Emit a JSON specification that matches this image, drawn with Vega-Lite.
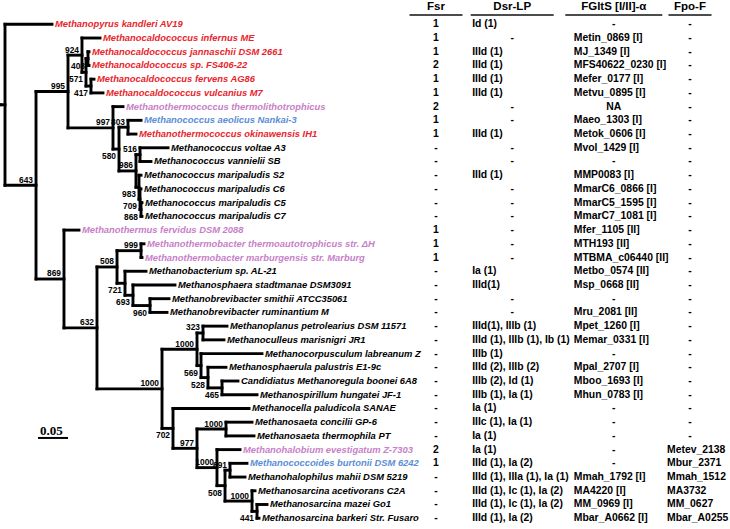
{
"$schema": "https://vega.github.io/schema/vega-lite/v6.json",
"width": 730, "height": 529, "autosize": "none", "padding": 0, "background": "white",
"config": {"view": {"stroke": null}},
"datasets": {
"nodes": [
{"id":"stub","parent":null,"d":-0.0067,"leaf":6.866},
{"id":"root","parent":"stub","d":0,"leaf":6.866},
{"id":"N643","parent":"root","d":0.0517,"leaf":12.731,"bs":"643","pos":"above"},
{"id":"N995","parent":"N643","d":0.105,"leaf":5.898,"bs":"995","pos":"above"},
{"id":"N924","parent":"N995","d":0.1283,"leaf":3.25,"bs":"924","pos":"above"},
{"id":"N571","parent":"N924","d":0.135,"leaf":4.5,"bs":"571","pos":"below"},
{"id":"N408","parent":"N571","d":0.1383,"leaf":3.5,"bs":"408","pos":"below"},
{"id":"N417","parent":"N571","d":0.1433,"leaf":5.5,"bs":"417","pos":"below"},
{"id":"N997","parent":"N995","d":0.18,"leaf":8.547,"bs":"997","pos":"above"},
{"id":"N580","parent":"N997","d":0.19,"leaf":10.094,"bs":"580","pos":"below"},
{"id":"N803","parent":"N580","d":0.205,"leaf":8.5,"bs":"803","pos":"above"},
{"id":"N986","parent":"N580","d":0.2183,"leaf":11.6875,"bs":"986","pos":"above"},
{"id":"N516","parent":"N986","d":0.225,"leaf":10.5,"bs":"516","pos":"above"},
{"id":"N983","parent":"N986","d":0.2233,"leaf":12.875,"bs":"983","pos":"below"},
{"id":"N709","parent":"N983","d":0.225,"leaf":13.75,"bs":"709","pos":"below"},
{"id":"N868","parent":"N709","d":0.2267,"leaf":14.5,"bs":"868","pos":"below"},
{"id":"N869","parent":"N643","d":0.0983,"leaf":19.564,"bs":"869","pos":"above"},
{"id":"N632","parent":"N869","d":0.1533,"leaf":23.129,"bs":"632","pos":"above"},
{"id":"N508","parent":"N632","d":0.1867,"leaf":18.6875,"bs":"508","pos":"above"},
{"id":"N999","parent":"N508","d":0.2267,"leaf":17.5,"bs":"999","pos":"above"},
{"id":"N721","parent":"N508","d":0.2,"leaf":19.875,"bs":"721","pos":"below"},
{"id":"N693","parent":"N721","d":0.2133,"leaf":20.75,"bs":"693","pos":"below"},
{"id":"N960","parent":"N693","d":0.2417,"leaf":21.5,"bs":"960","pos":"below"},
{"id":"N1000g","parent":"N632","d":0.2617,"leaf":27.57,"bs":"1000","pos":"above"},
{"id":"N1000a","parent":"N1000g","d":0.32,"leaf":24.6875,"bs":"1000","pos":"above"},
{"id":"N323","parent":"N1000a","d":0.33,"leaf":23.5,"bs":"323","pos":"above"},
{"id":"N569","parent":"N1000a","d":0.3267,"leaf":25.875,"bs":"569","pos":"below"},
{"id":"N528","parent":"N569","d":0.3383,"leaf":26.75,"bs":"528","pos":"below"},
{"id":"N465","parent":"N528","d":0.3617,"leaf":27.5,"bs":"465","pos":"below"},
{"id":"N702","parent":"N1000g","d":0.28,"leaf":30.453,"bs":"702","pos":"below"},
{"id":"N977","parent":"N702","d":0.32,"leaf":31.906,"bs":"977","pos":"above"},
{"id":"N1000c","parent":"N977","d":0.3683,"leaf":30.5,"bs":"1000","pos":"above"},
{"id":"N1000d","parent":"N977","d":0.3533,"leaf":33.3125,"bs":"1000","pos":"above"},
{"id":"N508b","parent":"N1000d","d":0.3667,"leaf":34.625,"bs":"508","pos":"below"},
{"id":"N691","parent":"N508b","d":0.375,"leaf":33.5,"bs":"691","pos":"above"},
{"id":"N1000e","parent":"N508b","d":0.4117,"leaf":35.75,"bs":"1000","pos":"above"},
{"id":"N441","parent":"N1000e","d":0.42,"leaf":36.5,"bs":"441","pos":"below"},
{"id":"L1","parent":"root","d":0.0783,"leaf":1,"name":"Methanopyrus kandleri AV19","grp":"g1"},
{"id":"L2","parent":"N924","d":0.1583,"leaf":2,"name":"Methanocaldococcus infernus ME","grp":"g1"},
{"id":"L3","parent":"N408","d":0.14,"leaf":3,"name":"Methanocaldococcus jannaschii DSM 2661","grp":"g1"},
{"id":"L4","parent":"N408","d":0.14,"leaf":4,"name":"Methanocaldococcus sp. FS406-22","grp":"g1"},
{"id":"L5","parent":"N417","d":0.1483,"leaf":5,"name":"Methanocaldococcus fervens AG86","grp":"g1"},
{"id":"L6","parent":"N417","d":0.1633,"leaf":6,"name":"Methanocaldococcus vulcanius M7","grp":"g1"},
{"id":"L7","parent":"N997","d":0.1967,"leaf":7,"name":"Methanothermococcus thermolithotrophicus","grp":"g2"},
{"id":"L8","parent":"N803","d":0.2267,"leaf":8,"name":"Methanococcus aeolicus Nankai-3","grp":"g3"},
{"id":"L9","parent":"N803","d":0.2183,"leaf":9,"name":"Methanothermococcus okinawensis IH1","grp":"g1"},
{"id":"L10","parent":"N516","d":0.2717,"leaf":10,"name":"Methanococcus voltae A3","grp":"g0"},
{"id":"L11","parent":"N516","d":0.2433,"leaf":11,"name":"Methanococcus vannielii SB","grp":"g0"},
{"id":"L12","parent":"N983","d":0.2267,"leaf":12,"name":"Methanococcus maripaludis S2","grp":"g0"},
{"id":"L13","parent":"N709","d":0.2267,"leaf":13,"name":"Methanococcus maripaludis C6","grp":"g0"},
{"id":"L14","parent":"N868","d":0.2283,"leaf":14,"name":"Methanococcus maripaludis C5","grp":"g0"},
{"id":"L15","parent":"N868","d":0.2283,"leaf":15,"name":"Methanococcus maripaludis C7","grp":"g0"},
{"id":"L16","parent":"N869","d":0.1233,"leaf":16,"name":"Methanothermus fervidus DSM 2088","grp":"g2"},
{"id":"L17","parent":"N999","d":0.2317,"leaf":17,"name":"Methanothermobacter thermoautotrophicus str. ΔH","grp":"g2"},
{"id":"L18","parent":"N999","d":0.2283,"leaf":18,"name":"Methanothermobacter marburgensis str. Marburg","grp":"g2"},
{"id":"L19","parent":"N721","d":0.235,"leaf":19,"name":"Methanobacterium sp. AL-21","grp":"g0"},
{"id":"L20","parent":"N693","d":0.2833,"leaf":20,"name":"Methanosphaera stadtmanae DSM3091","grp":"g0"},
{"id":"L21","parent":"N960","d":0.2733,"leaf":21,"name":"Methanobrevibacter smithii ATCC35061","grp":"g0"},
{"id":"L22","parent":"N960","d":0.27,"leaf":22,"name":"Methanobrevibacter ruminantium M","grp":"g0"},
{"id":"L23","parent":"N323","d":0.37,"leaf":23,"name":"Methanoplanus petrolearius DSM 11571","grp":"g0"},
{"id":"L24","parent":"N323","d":0.365,"leaf":24,"name":"Methanoculleus marisnigri JR1","grp":"g0"},
{"id":"L25","parent":"N569","d":0.4283,"leaf":25,"name":"Methanocorpusculum labreanum Z","grp":"g0"},
{"id":"L26","parent":"N528","d":0.3683,"leaf":26,"name":"Methanosphaerula palustris E1-9c","grp":"g0"},
{"id":"L27","parent":"N465","d":0.3883,"leaf":27,"name":"Candidiatus Methanoregula boonei 6A8","grp":"g0"},
{"id":"L28","parent":"N465","d":0.42,"leaf":28,"name":"Methanospirillum hungatei JF-1","grp":"g0"},
{"id":"L29","parent":"N702","d":0.4067,"leaf":29,"name":"Methanocella paludicola SANAE","grp":"g0"},
{"id":"L30","parent":"N1000c","d":0.4117,"leaf":30,"name":"Methanosaeta concilii GP-6","grp":"g0"},
{"id":"L31","parent":"N1000c","d":0.415,"leaf":31,"name":"Methanosaeta thermophila PT","grp":"g0"},
{"id":"L32","parent":"N1000d","d":0.3917,"leaf":32,"name":"Methanohalobium evestigatum Z-7303","grp":"g2"},
{"id":"L33","parent":"N691","d":0.4033,"leaf":33,"name":"Methanococcoides burtonii DSM 6242","grp":"g3"},
{"id":"L34","parent":"N691","d":0.4,"leaf":34,"name":"Methanohalophilus mahii DSM 5219","grp":"g0"},
{"id":"L35","parent":"N1000e","d":0.4167,"leaf":35,"name":"Methanosarcina acetivorans C2A","grp":"g0"},
{"id":"L36","parent":"N441","d":0.4367,"leaf":36,"name":"Methanosarcina mazei Go1","grp":"g0"},
{"id":"L37","parent":"N441","d":0.4233,"leaf":37,"name":"Methanosarcina barkeri Str. Fusaro","grp":"g0"}
],
"table": [
{"leaf":1,"Fsr":"1","Dsr-LP":"Id (1)","FGltS":"-","Fpo-F":"-"},
{"leaf":2,"Fsr":"1","Dsr-LP":"-","FGltS":"Metin_0869 [I]","Fpo-F":"-"},
{"leaf":3,"Fsr":"1","Dsr-LP":"IIId (1)","FGltS":"MJ_1349 [I]","Fpo-F":"-"},
{"leaf":4,"Fsr":"2","Dsr-LP":"IIId (1)","FGltS":"MFS40622_0230 [I]","Fpo-F":"-"},
{"leaf":5,"Fsr":"1","Dsr-LP":"IIId (1)","FGltS":"Mefer_0177 [I]","Fpo-F":"-"},
{"leaf":6,"Fsr":"1","Dsr-LP":"IIId (1)","FGltS":"Metvu_0895 [I]","Fpo-F":"-"},
{"leaf":7,"Fsr":"2","Dsr-LP":"-","FGltS":"NA","Fpo-F":"-"},
{"leaf":8,"Fsr":"1","Dsr-LP":"-","FGltS":"Maeo_1303 [I]","Fpo-F":"-"},
{"leaf":9,"Fsr":"1","Dsr-LP":"IIId (1)","FGltS":"Metok_0606 [I]","Fpo-F":"-"},
{"leaf":10,"Fsr":"-","Dsr-LP":"-","FGltS":"Mvol_1429 [I]","Fpo-F":"-"},
{"leaf":11,"Fsr":"-","Dsr-LP":"-","FGltS":"-","Fpo-F":"-"},
{"leaf":12,"Fsr":"-","Dsr-LP":"IIId (1)","FGltS":"MMP0083 [I]","Fpo-F":"-"},
{"leaf":13,"Fsr":"-","Dsr-LP":"-","FGltS":"MmarC6_0866 [I]","Fpo-F":"-"},
{"leaf":14,"Fsr":"-","Dsr-LP":"-","FGltS":"MmarC5_1595 [I]","Fpo-F":"-"},
{"leaf":15,"Fsr":"-","Dsr-LP":"-","FGltS":"MmarC7_1081 [I]","Fpo-F":"-"},
{"leaf":16,"Fsr":"1","Dsr-LP":"-","FGltS":"Mfer_1105 [II]","Fpo-F":"-"},
{"leaf":17,"Fsr":"1","Dsr-LP":"-","FGltS":"MTH193 [II]","Fpo-F":"-"},
{"leaf":18,"Fsr":"1","Dsr-LP":"-","FGltS":"MTBMA_c06440 [II]","Fpo-F":"-"},
{"leaf":19,"Fsr":"-","Dsr-LP":"Ia (1)","FGltS":"Metbo_0574 [II]","Fpo-F":"-"},
{"leaf":20,"Fsr":"-","Dsr-LP":"IIId(1)","FGltS":"Msp_0668 [II]","Fpo-F":"-"},
{"leaf":21,"Fsr":"-","Dsr-LP":"-","FGltS":"-","Fpo-F":"-"},
{"leaf":22,"Fsr":"-","Dsr-LP":"-","FGltS":"Mru_2081 [II]","Fpo-F":"-"},
{"leaf":23,"Fsr":"-","Dsr-LP":"IIId(1), IIIb (1)","FGltS":"Mpet_1260 [I]","Fpo-F":"-"},
{"leaf":24,"Fsr":"-","Dsr-LP":"IIId (1), IIIb (1), Ib (1)","FGltS":"Memar_0331 [I]","Fpo-F":"-"},
{"leaf":25,"Fsr":"-","Dsr-LP":"IIIb (1)","FGltS":"-","Fpo-F":"-"},
{"leaf":26,"Fsr":"-","Dsr-LP":"IIId (2), IIIb (2)","FGltS":"Mpal_2707 [I]","Fpo-F":"-"},
{"leaf":27,"Fsr":"-","Dsr-LP":"IIIb (2), Id (1)","FGltS":"Mboo_1693 [I]","Fpo-F":"-"},
{"leaf":28,"Fsr":"-","Dsr-LP":"IIIb (1), Ia (1)","FGltS":"Mhun_0783 [I]","Fpo-F":"-"},
{"leaf":29,"Fsr":"-","Dsr-LP":"Ia (1)","FGltS":"-","Fpo-F":"-"},
{"leaf":30,"Fsr":"-","Dsr-LP":"IIIc (1), Ia (1)","FGltS":"-","Fpo-F":"-"},
{"leaf":31,"Fsr":"-","Dsr-LP":"Ia (1)","FGltS":"-","Fpo-F":"-"},
{"leaf":32,"Fsr":"2","Dsr-LP":"Ia (1)","FGltS":"-","Fpo-F":"Metev_2138"},
{"leaf":33,"Fsr":"1","Dsr-LP":"IIId (1), Ia (2)","FGltS":"-","Fpo-F":"Mbur_2371"},
{"leaf":34,"Fsr":"-","Dsr-LP":"IIId (1), IIIa (1), Ia (1)","FGltS":"Mmah_1792 [I]","Fpo-F":"Mmah_1512"},
{"leaf":35,"Fsr":"-","Dsr-LP":"IIId (1), Ic (1), Ia (2)","FGltS":"MA4220 [I]","Fpo-F":"MA3732"},
{"leaf":36,"Fsr":"-","Dsr-LP":"IIId (1), Ic (1), Ia (2)","FGltS":"MM_0969 [I]","Fpo-F":"MM_0627"},
{"leaf":37,"Fsr":"-","Dsr-LP":"IIId (1), Ia (2)","FGltS":"Mbar_A0662 [I]","Fpo-F":"Mbar_A0255"}
],
"head": [
{"col":"Fsr","title":"Fsr"},
{"col":"Dsr-LP","title":"Dsr-LP"},
{"col":"FGltS","title":"FGltS [I/II]-α"},
{"col":"Fpo-F","title":"Fpo-F"}
],
"scalebar": [{"from":0.055,"to":0.105,"leaf":31.15,"label":"0.05"}]
},
"resolve": {"scale": {"x": "independent"}},
"layer": [
{
"layer": [
{
"data": {"name": "nodes"},
"transform": [
{"filter": "datum.parent != null"},
{"lookup": "parent", "from": {"data": {"name": "nodes"}, "key": "id", "fields": ["d"]}, "as": ["pd"]}
],
"mark": {"type": "rule", "color": "black", "strokeWidth": 2.9, "strokeCap": "square"},
"encoding": {
"x": {"field": "pd", "type": "quantitative", "scale": {"domain": [-0.008333, 1.208333], "nice": false, "zero": false}, "axis": null},
"x2": {"field": "d"},
"y": {"field": "leaf", "type": "quantitative", "scale": {"domain": [-0.771, 37.786], "reverse": true, "nice": false, "zero": false}, "axis": null}
}
},
{
"data": {"name": "nodes"},
"transform": [
{"filter": "datum.parent != null"},
{"aggregate": [{"op": "min", "field": "leaf", "as": "y0"}, {"op": "max", "field": "leaf", "as": "y1"}], "groupby": ["parent"]},
{"lookup": "parent", "from": {"data": {"name": "nodes"}, "key": "id", "fields": ["d"]}, "as": ["pd"]}
],
"mark": {"type": "rule", "color": "black", "strokeWidth": 2.9, "strokeCap": "square"},
"encoding": {
"x": {"field": "pd", "type": "quantitative", "scale": {"domain": [-0.008333, 1.208333], "nice": false, "zero": false}, "axis": null},
"y": {"field": "y0", "type": "quantitative", "scale": {"domain": [-0.771, 37.786], "reverse": true, "nice": false, "zero": false}, "axis": null},
"y2": {"field": "y1"}
}
},
{
"data": {"name": "nodes"},
"transform": [{"filter": "datum.name != null"}],
"mark": {"type": "text", "align": "left", "baseline": "middle", "dx": 3, "font": "Liberation Sans", "fontWeight": "bold", "fontStyle": "italic", "fontSize": 9.4},
"encoding": {
"x": {"field": "d", "type": "quantitative", "scale": {"domain": [-0.008333, 1.208333], "nice": false, "zero": false}, "axis": null},
"y": {"field": "leaf", "type": "quantitative", "scale": {"domain": [-0.771, 37.786], "reverse": true, "nice": false, "zero": false}, "axis": null},
"text": {"field": "name"},
"color": {"field": "grp", "type": "nominal", "scale": {"domain": ["g0", "g1", "g2", "g3"], "range": ["#000000", "#e8262d", "#c77fc9", "#5b8ed6"]}, "legend": null}
}
},
{
"data": {"name": "nodes"},
"transform": [{"filter": "datum.pos == 'above'"}],
"mark": {"type": "text", "align": "right", "baseline": "middle", "dx": -3, "dy": -5.5, "font": "Liberation Sans", "fontWeight": "bold", "fontSize": 8.4, "color": "black"},
"encoding": {
"x": {"field": "d", "type": "quantitative", "scale": {"domain": [-0.008333, 1.208333], "nice": false, "zero": false}, "axis": null},
"y": {"field": "leaf", "type": "quantitative", "scale": {"domain": [-0.771, 37.786], "reverse": true, "nice": false, "zero": false}, "axis": null},
"text": {"field": "bs"}
}
},
{
"data": {"name": "nodes"},
"transform": [{"filter": "datum.pos == 'below'"}],
"mark": {"type": "text", "align": "right", "baseline": "middle", "dx": -3, "dy": 7, "font": "Liberation Sans", "fontWeight": "bold", "fontSize": 8.4, "color": "black"},
"encoding": {
"x": {"field": "d", "type": "quantitative", "scale": {"domain": [-0.008333, 1.208333], "nice": false, "zero": false}, "axis": null},
"y": {"field": "leaf", "type": "quantitative", "scale": {"domain": [-0.771, 37.786], "reverse": true, "nice": false, "zero": false}, "axis": null},
"text": {"field": "bs"}
}
},
{
"data": {"name": "scalebar"},
"mark": {"type": "rule", "color": "black", "strokeWidth": 2},
"encoding": {
"x": {"field": "from", "type": "quantitative", "scale": {"domain": [-0.008333, 1.208333], "nice": false, "zero": false}, "axis": null},
"x2": {"field": "to"},
"y": {"field": "leaf", "type": "quantitative", "scale": {"domain": [-0.771, 37.786], "reverse": true, "nice": false, "zero": false}, "axis": null}
}
},
{
"data": {"name": "scalebar"},
"mark": {"type": "text", "align": "left", "baseline": "alphabetic", "dx": 2, "dy": -2.5, "font": "Liberation Serif", "fontWeight": "bold", "fontSize": 13, "color": "black"},
"encoding": {
"x": {"field": "from", "type": "quantitative", "scale": {"domain": [-0.008333, 1.208333], "nice": false, "zero": false}, "axis": null},
"y": {"field": "leaf", "type": "quantitative", "scale": {"domain": [-0.771, 37.786], "reverse": true, "nice": false, "zero": false}, "axis": null},
"text": {"field": "label"}
}
}
]
},
{
"layer": [
{
"data": {"name": "head"},
"mark": {"type": "text", "align": "center", "baseline": "middle", "font": "Liberation Sans", "fontWeight": "bold", "fontSize": 11.5, "color": "black"},
"encoding": {
"x": {"field": "col", "type": "nominal", "scale": {"type": "point", "domain": ["Fsr", "s1", "s2", "Dsr-LP", "s3", "s4", "s5", "FGltS", "s6", "s7", "Fpo-F"], "range": [436, 690], "padding": 0}, "axis": null},
"y": {"datum": -0.24, "type": "quantitative", "scale": {"domain": [-0.771, 37.786], "reverse": true, "nice": false, "zero": false}, "axis": null},
"text": {"field": "title"}
}
},
{
"data": {"name": "head"},
"transform": [{"filter": "datum.col == 'Fsr'"}],
"mark": {"type": "tick", "orient": "horizontal", "size": 53, "thickness": 2, "color": "black"},
"encoding": {
"x": {"field": "col", "type": "nominal", "scale": {"type": "point", "domain": ["Fsr", "s1", "s2", "Dsr-LP", "s3", "s4", "s5", "FGltS", "s6", "s7", "Fpo-F"], "range": [436, 690], "padding": 0}, "axis": null},
"y": {"datum": 0.322, "type": "quantitative", "scale": {"domain": [-0.771, 37.786], "reverse": true, "nice": false, "zero": false}, "axis": null}
}
},
{
"data": {"name": "head"},
"transform": [{"filter": "datum.col == 'Dsr-LP'"}],
"mark": {"type": "tick", "orient": "horizontal", "size": 83, "thickness": 2, "color": "black"},
"encoding": {
"x": {"field": "col", "type": "nominal", "scale": {"type": "point", "domain": ["Fsr", "s1", "s2", "Dsr-LP", "s3", "s4", "s5", "FGltS", "s6", "s7", "Fpo-F"], "range": [436, 690], "padding": 0}, "axis": null},
"y": {"datum": 0.322, "type": "quantitative", "scale": {"domain": [-0.771, 37.786], "reverse": true, "nice": false, "zero": false}, "axis": null}
}
},
{
"data": {"name": "head"},
"transform": [{"filter": "datum.col == 'FGltS'"}],
"mark": {"type": "tick", "orient": "horizontal", "size": 97, "thickness": 2, "color": "black"},
"encoding": {
"x": {"field": "col", "type": "nominal", "scale": {"type": "point", "domain": ["Fsr", "s1", "s2", "Dsr-LP", "s3", "s4", "s5", "FGltS", "s6", "s7", "Fpo-F"], "range": [436, 690], "padding": 0}, "axis": null},
"y": {"datum": 0.322, "type": "quantitative", "scale": {"domain": [-0.771, 37.786], "reverse": true, "nice": false, "zero": false}, "axis": null}
}
},
{
"data": {"name": "head"},
"transform": [{"filter": "datum.col == 'Fpo-F'"}],
"mark": {"type": "tick", "orient": "horizontal", "size": 43, "thickness": 2, "color": "black"},
"encoding": {
"x": {"field": "col", "type": "nominal", "scale": {"type": "point", "domain": ["Fsr", "s1", "s2", "Dsr-LP", "s3", "s4", "s5", "FGltS", "s6", "s7", "Fpo-F"], "range": [436, 690], "padding": 0}, "axis": null},
"y": {"datum": 0.322, "type": "quantitative", "scale": {"domain": [-0.771, 37.786], "reverse": true, "nice": false, "zero": false}, "axis": null}
}
},
{
"data": {"name": "table"},
"transform": [
{"fold": ["Fsr", "Dsr-LP", "FGltS", "Fpo-F"], "as": ["col", "val"]},
{"filter": "datum.col == 'Fsr' || datum.val == '-' || datum.val == 'NA'"}
],
"mark": {"type": "text", "align": "center", "baseline": "middle", "font": "Liberation Sans", "fontWeight": "bold", "fontSize": 10.4, "color": "black"},
"encoding": {
"x": {"field": "col", "type": "nominal", "scale": {"type": "point", "domain": ["Fsr", "s1", "s2", "Dsr-LP", "s3", "s4", "s5", "FGltS", "s6", "s7", "Fpo-F"], "range": [436, 690], "padding": 0}, "axis": null},
"y": {"field": "leaf", "type": "quantitative", "scale": {"domain": [-0.771, 37.786], "reverse": true, "nice": false, "zero": false}, "axis": null},
"text": {"field": "val"}
}
},
{
"data": {"name": "table"},
"transform": [
{"fold": ["Fsr", "Dsr-LP", "FGltS", "Fpo-F"], "as": ["col", "val"]},
{"filter": "(datum.col == 'Dsr-LP' || datum.col == 'FGltS') && datum.val != '-' && datum.val != 'NA'"}
],
"mark": {"type": "text", "align": "left", "baseline": "middle", "dx": -40, "font": "Liberation Sans", "fontWeight": "bold", "fontSize": 10.4, "color": "black"},
"encoding": {
"x": {"field": "col", "type": "nominal", "scale": {"type": "point", "domain": ["Fsr", "s1", "s2", "Dsr-LP", "s3", "s4", "s5", "FGltS", "s6", "s7", "Fpo-F"], "range": [436, 690], "padding": 0}, "axis": null},
"y": {"field": "leaf", "type": "quantitative", "scale": {"domain": [-0.771, 37.786], "reverse": true, "nice": false, "zero": false}, "axis": null},
"text": {"field": "val"}
}
},
{
"data": {"name": "table"},
"transform": [
{"fold": ["Fsr", "Dsr-LP", "FGltS", "Fpo-F"], "as": ["col", "val"]},
{"filter": "datum.col == 'Fpo-F' && datum.val != '-'"}
],
"mark": {"type": "text", "align": "left", "baseline": "middle", "dx": -23, "font": "Liberation Sans", "fontWeight": "bold", "fontSize": 10.4, "color": "black"},
"encoding": {
"x": {"field": "col", "type": "nominal", "scale": {"type": "point", "domain": ["Fsr", "s1", "s2", "Dsr-LP", "s3", "s4", "s5", "FGltS", "s6", "s7", "Fpo-F"], "range": [436, 690], "padding": 0}, "axis": null},
"y": {"field": "leaf", "type": "quantitative", "scale": {"domain": [-0.771, 37.786], "reverse": true, "nice": false, "zero": false}, "axis": null},
"text": {"field": "val"}
}
}
]
}
]
}
